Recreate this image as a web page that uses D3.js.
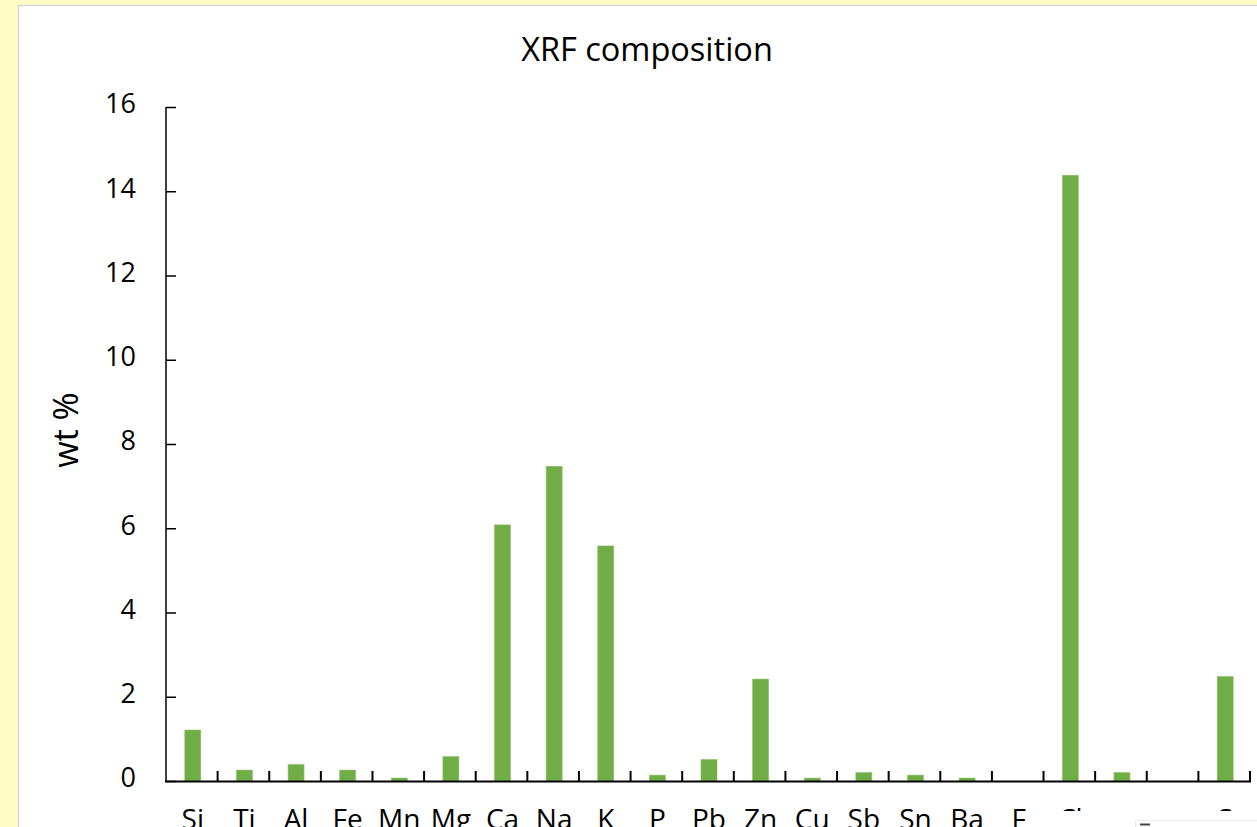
<!DOCTYPE html>
<html>
<head>
<meta charset="utf-8">
<script src="https://cdn.jsdelivr.net/npm/d3@7"></script>
<style>
  html, body { margin: 0; padding: 0; background: #FFFCC6; overflow: hidden; }
  svg { display: block; }
  text { font-family: "Open Sans", "Noto Sans", sans-serif; fill: #000; }
</style>
</head>
<body>
<svg id="chart" width="1257" height="827"></svg>
<script>
// Element symbols along the x axis (last labels are partly covered by the panel below the chart)
const elements = ["Si", "Ti", "Al", "Fe", "Mn", "Mg", "Ca", "Na", "K", "P", "Pb", "Zn",
                  "Cu", "Sb", "Sn", "Ba", "F", "Cl", "", "", "S"];
// Concentrations in wt %
const wtPercent = [1.21, 0.26, 0.39, 0.26, 0.07, 0.58, 6.08, 7.47, 5.58, 0.14, 0.51, 2.42,
                   0.07, 0.2, 0.14, 0.07, 0, 14.38, 0.2, 0, 2.48];
const yTicks = [0, 2, 4, 6, 8, 10, 12, 14, 16];
const chartTitle = "XRF composition";
const yTitle = "wt %";

const svg = d3.select("#chart");
const W = 1257, H = 827;

// white chart area with a light frame
svg.append("rect")
  .attr("x", 18.5).attr("y", 5.5)
  .attr("width", W + 20).attr("height", H + 20)
  .attr("fill", "#fff")
  .attr("stroke", "#d6d6d6").attr("stroke-width", 1.5);

const plot = { left: 166, right: 1250, top: 107, bottom: 781 };

const x = d3.scaleBand()
  .domain(d3.range(elements.length))
  .range([plot.left, plot.right])
  .paddingInner(0.69).paddingOuter(0.345);

const y = d3.scaleLinear().domain([0, 16]).range([plot.bottom, plot.top]);

// bars
svg.append("g").selectAll("rect")
  .data(wtPercent)
  .join("rect")
  .attr("x", (d, i) => x(i) + 1)
  .attr("y", d => y(d))
  .attr("width", x.bandwidth())
  .attr("height", d => y(0) - y(d))
  .attr("fill", "#70AD47")
  .attr("stroke", "#8fc16b").attr("stroke-width", 0.6);

// y axis: ticks point inward, labels to the left
const yAxis = d3.axisRight(y).tickValues(yTicks).tickSize(10).tickFormat(d3.format("d"));
const gy = svg.append("g").attr("transform", `translate(${plot.left},0)`).call(yAxis);
gy.select(".domain").remove();
gy.selectAll(".tick line").attr("stroke", "#000").attr("stroke-width", 1.5);
gy.selectAll(".tick text")
  .attr("x", -30).attr("dy", "0.22em")
  .attr("text-anchor", "end")
  .style("font-size", "27px");
svg.append("line")
  .attr("x1", plot.left).attr("x2", plot.left)
  .attr("y1", plot.top).attr("y2", plot.bottom)
  .attr("stroke", "#000").attr("stroke-width", 1.5);

// x axis: category boundaries marked by inward ticks
const boundaries = d3.range(elements.length + 1).map(i => plot.left + i * x.step());
const gx = svg.append("g");
gx.selectAll("line.tk")
  .data(boundaries.slice(1))
  .join("line")
  .attr("class", "tk")
  .attr("x1", d => d).attr("x2", d => d)
  .attr("y1", plot.bottom).attr("y2", plot.bottom - 10)
  .attr("stroke", "#000").attr("stroke-width", 2);
gx.append("line")
  .attr("x1", plot.left - 1).attr("x2", plot.right + 1)
  .attr("y1", plot.bottom + 0.5).attr("y2", plot.bottom + 0.5)
  .attr("stroke", "#000").attr("stroke-width", 2);

gx.selectAll("text.cat")
  .data(elements)
  .join("text")
  .attr("class", "cat")
  .attr("x", (d, i) => x(i) + x.bandwidth() / 2 + 1)
  .attr("y", 829)
  .attr("text-anchor", "middle")
  .style("font-size", "28px")
  .text(d => d);

// panel lying over the lower right corner of the chart
svg.append("rect")
  .attr("x", 1040).attr("y", 811)
  .attr("width", 230).attr("height", 30)
  .attr("fill", "#fff");
svg.append("rect")
  .attr("x", 1135.5).attr("y", 820.5)
  .attr("width", 140).attr("height", 20)
  .attr("fill", "#fff")
  .attr("stroke", "#ececec").attr("stroke-width", 1);
svg.append("line")
  .attr("x1", 1140).attr("x2", 1150)
  .attr("y1", 824.5).attr("y2", 824.5)
  .attr("stroke", "#444").attr("stroke-width", 2);

// titles
svg.append("text")
  .attr("x", 647).attr("y", 61)
  .attr("text-anchor", "middle")
  .style("font-size", "32.5px")
  .text(chartTitle);

svg.append("text")
  .attr("transform", "translate(78,430) rotate(-90)")
  .attr("text-anchor", "middle")
  .style("font-size", "34px")
  .text(yTitle);
</script>
</body>
</html>
